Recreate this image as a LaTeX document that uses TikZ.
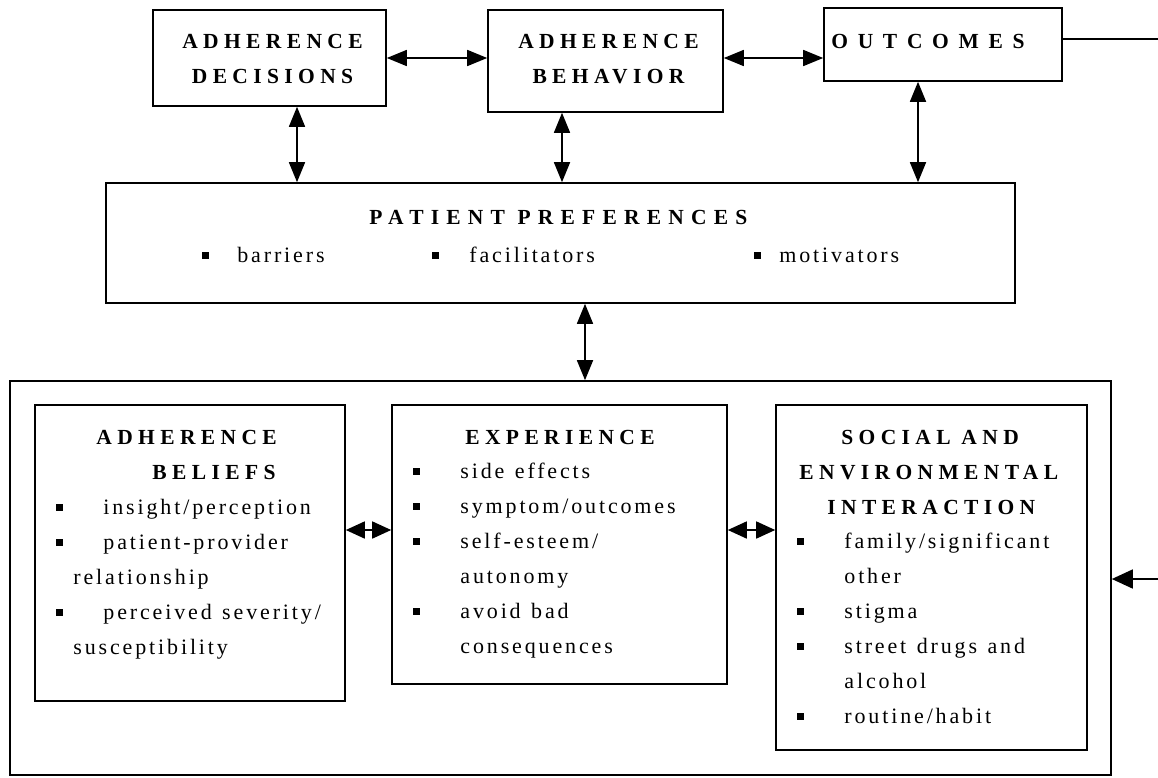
\documentclass[tikz,border=0pt]{standalone}
\usepackage{fontspec}
\setmainfont{Liberation Serif}
\newfontfamily\headfont{Liberation Serif}
\newfontfamily\bodyfont[LetterSpace=13,WordSpace=1.25]{Liberation Serif}
\usetikzlibrary{arrows.meta}
\newcommand{\bul}{\rule[3.5pt]{6.5pt}{6.5pt}}
\newcommand{\fl}{\rule{0pt}{17pt}}
\newcommand{\hd}[2][25]{{\headfont\bfseries\fontsize{21.5}{35}\selectfont\addfontfeature{LetterSpace=#1}#2}}
\newcommand{\itm}[1]{\hspace*{22pt}\bul\hspace*{40.5pt}#1}
\tikzset{
  box/.style={draw, line width=1.6pt, inner sep=0pt},
  txt/.style={anchor=north west, inner sep=0pt, align=left, font=\fontsize{22}{35}\selectfont\bodyfont},
  twoway/.style={line width=1.6pt, {Triangle[length=20pt,width=16pt]}-{Triangle[length=20pt,width=16pt]}},
  smallway/.style={line width=1.6pt, {Triangle[length=19pt,width=17pt]}-{Triangle[length=19pt,width=17pt]}},
  oneway/.style={line width=1.6pt, -{Triangle[length=21pt,width=19pt]}}
}
\begin{document}
\begin{tikzpicture}[x=1pt,y=-1pt]
\useasboundingbox (0,0) rectangle (1158,777);
\node[box, minimum width=233pt, minimum height=96pt] (dec) at (269.5,58) {};
\node[box, minimum width=235pt, minimum height=102pt] (beh) at (605.5,61) {};
\node[box, minimum width=238pt, minimum height=73pt] (out) at (943,44.5) {};
\node[box, minimum width=909pt, minimum height=120pt] (pref) at (560.5,243) {};
\node[box, minimum width=1101pt, minimum height=394pt] (big) at (560.5,578) {};
\node[box, minimum width=310pt, minimum height=296pt] (bel) at (190,553) {};
\node[box, minimum width=335pt, minimum height=279pt] (exp) at (559.5,544.5) {};
\node[box, minimum width=311pt, minimum height=345pt] (soc) at (931.5,577.5) {};

\node[txt, anchor=north, align=center] (dectxt) at ([xshift=3pt,yshift=-22pt]dec.north) {\fl\hd{ADHERENCE}\\\hd{DECISIONS}};
\node[txt, anchor=north, align=center] (behtxt) at ([xshift=3pt,yshift=-22pt]beh.north) {\fl\hd{ADHERENCE}\\\hd{BEHAVIOR}};
\node[txt] (outtxt) at ([xshift=8pt,yshift=-24pt]out.north west) {\fl\hd[45]{OUTCOMES}};
\node[txt] (preftxt) at ([yshift=-25.5pt]pref.north west) {\fl\hspace*{264pt}\hd[33.5]{PATIENT PREFERENCES}\\[2.5pt]
\hspace*{97pt}\makebox[230pt][l]{\bul\hspace*{28.5pt}barriers}\makebox[322pt][l]{\bul\hspace*{30.5pt}facilitators}\bul\hspace*{18.5pt}motivators};
\node[txt] (beltxt) at ([yshift=-23pt]bel.north west) {\fl\hspace*{62pt}\hd{ADHERENCE}\\
\hspace*{118pt}\hd{BELIEFS}\\
\itm{insight/perception}\\
\itm{patient-provider}\\
\hspace*{39pt}relationship\\
\itm{perceived severity/}\\
\hspace*{39pt}susceptibility};
\node[txt] (exptxt) at ([yshift=-23pt]exp.north west) {\fl\hspace*{74pt}\hd{EXPERIENCE}\\[-1pt]
\itm{side effects}\\
\itm{symptom/outcomes}\\
\itm{self-esteem/}\\
\hspace*{69pt}autonomy\\
\itm{avoid bad}\\
\hspace*{69pt}consequences};
\node[txt] (soctxt) at ([yshift=-23pt]soc.north west) {\fl\hspace*{66pt}\hd{SOCIAL AND}\\
\hspace*{24pt}\hd{ENVIRONMENTAL}\\
\hspace*{52pt}\hd{INTERACTION}\\[-1pt]
\itm{family/significant}\\
\hspace*{69pt}other\\
\itm{stigma}\\
\itm{street drugs and}\\
\hspace*{69pt}alcohol\\
\itm{routine/habit}};

\draw[twoway] (dec.east) -- (dec.east -| beh.west);
\draw[twoway] (beh.east |- dec.east) -- (out.west |- dec.east);
\draw[twoway] ([xshift=27.5pt]dec.south) -- ([xshift=27.5pt]dec.south |- pref.north);
\draw[twoway] ([xshift=-43.5pt]beh.south) -- ([xshift=-43.5pt]beh.south |- pref.north);
\draw[twoway] ([xshift=-25pt]out.south) -- ([xshift=-25pt]out.south |- pref.north);
\draw[twoway] ([xshift=24.5pt]pref.south) -- ([xshift=24.5pt]pref.south |- big.north);
\draw[smallway] ([yshift=23pt]bel.east) -- ([yshift=23pt]bel.east -| exp.west);
\draw[smallway] ([yshift=14.5pt]exp.east) -- ([yshift=14.5pt]exp.east -| soc.west);
\coordinate (fbtop) at (1158,39);
\coordinate (fbbot) at (1158,579);
\draw[line width=1.6pt] (out.east |- fbtop) -- (fbtop);
\draw[oneway] (fbbot) -- (fbbot -| big.east);
\end{tikzpicture}
\end{document}
